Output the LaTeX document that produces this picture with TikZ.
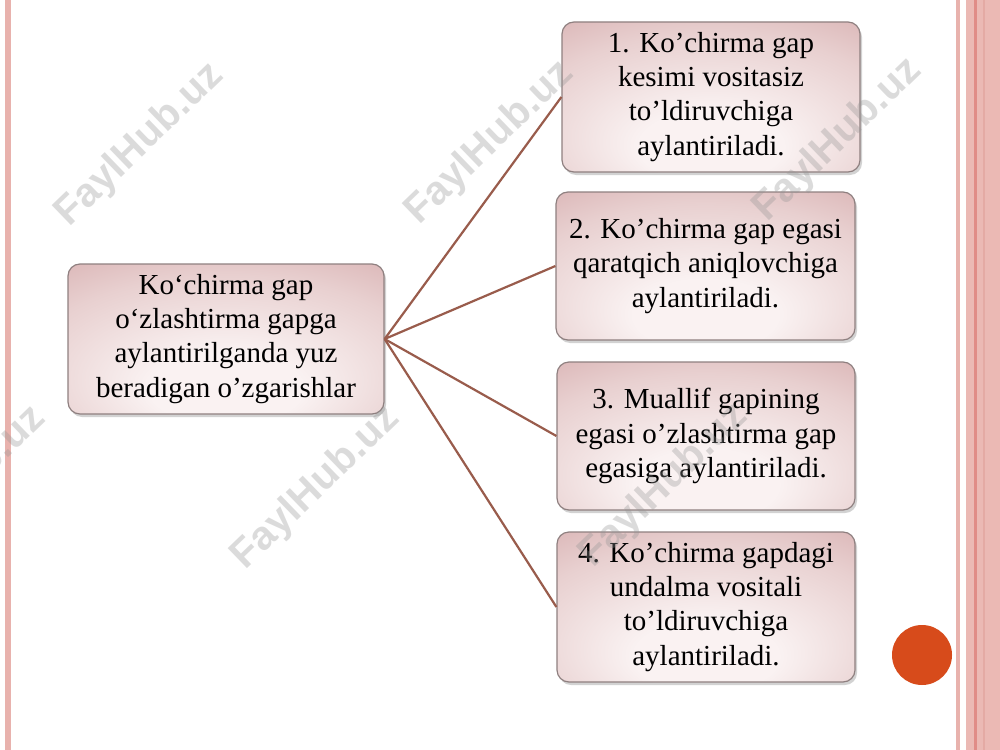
\documentclass[tikz,border=0pt]{standalone}
\usepackage{fontspec}
\setmainfont{Liberation Serif}
\newfontfamily\wmfont{Liberation Sans}
\usetikzlibrary{shadows}

\newlength{\du}
\setlength{\du}{0.02cm}

\definecolor{boxlight}{rgb}{0.980000, 0.950000, 0.950000}
\definecolor{boxmid}{rgb}{0.910000, 0.815000, 0.815000}
\definecolor{boxdark}{rgb}{0.825000, 0.650000, 0.655000}
\definecolor{boxline}{rgb}{0.560000, 0.500000, 0.500000}
\definecolor{linkcolor}{rgb}{0.600000, 0.360000, 0.300000}
\pgfdeclareradialshading{boxshading}{\pgfpoint{0bp}{-20bp}}{color(0bp)=(boxlight); color(12bp)=(boxlight); color(32bp)=(boxmid); color(50bp)=(boxdark); color(70bp)=(boxdark)}

\tikzset{
  bigbox/.style={draw=boxline, line width=1.2\du, rounded corners=12\du, shading=boxshading,
    drop shadow={opacity=0.35, shadow xshift=2\du, shadow yshift=-3\du},
    align=center, inner sep=0pt, font=\fontsize{16.5}{19.4}\selectfont},
  link/.style={draw=linkcolor, line width=2.2\du},
  wmark/.style={font=\wmfont\bfseries\fontsize{23}{23}\selectfont, text=black!42, opacity=0.33, rotate=44}
}

\begin{document}
\begin{tikzpicture}
\pgftransformxscale{1.000000}
\pgftransformyscale{-1.000000}
\useasboundingbox (0.000000\du,0.000000\du) rectangle (1000.000000\du,750.000000\du);
\fill[white] (0.000000\du,0.000000\du) rectangle (1000.000000\du,750.000000\du);
% stripes left and right
\definecolor{dialinecolor}{rgb}{0.910000, 0.700000, 0.680000}
\pgfsetfillcolor{dialinecolor}
\fill (5.000000\du,0.000000\du)--(5.000000\du,750.000000\du)--(11.000000\du,750.000000\du)--(11.000000\du,0.000000\du)--cycle;
\fill (956.000000\du,0.000000\du)--(956.000000\du,750.000000\du)--(960.000000\du,750.000000\du)--(960.000000\du,0.000000\du)--cycle;
\definecolor{dialinecolor}{rgb}{0.920000, 0.725000, 0.705000}
\pgfsetfillcolor{dialinecolor}
\fill (966.000000\du,0.000000\du)--(966.000000\du,750.000000\du)--(1000.000000\du,750.000000\du)--(1000.000000\du,0.000000\du)--cycle;
\definecolor{dialinecolor}{rgb}{0.880000, 0.550000, 0.530000}
\pgfsetfillcolor{dialinecolor}
\fill (974.000000\du,0.000000\du)--(974.000000\du,750.000000\du)--(976.500000\du,750.000000\du)--(976.500000\du,0.000000\du)--cycle;
\definecolor{dialinecolor}{rgb}{0.895000, 0.665000, 0.645000}
\pgfsetfillcolor{dialinecolor}
\fill (983.000000\du,0.000000\du)--(983.000000\du,750.000000\du)--(985.000000\du,750.000000\du)--(985.000000\du,0.000000\du)--cycle;
% orange dot
\definecolor{dialinecolor}{rgb}{0.845000, 0.295000, 0.105000}
\pgfsetfillcolor{dialinecolor}
\fill (922.000000\du,655.000000\du) circle (30.000000\du);
% boxes
\node[bigbox, minimum width=316\du, minimum height=150\du] (main) at (226.000000\du,339.000000\du)
  {Ko‘chirma gap\\o‘zlashtirma gapga\\aylantirilganda yuz\\beradigan o’zgarishlar};
\node[bigbox, minimum width=298\du, minimum height=150\du] (one) at (711.000000\du,97.000000\du)
  {1. Ko’chirma gap\\kesimi vositasiz\\to’ldiruvchiga\\aylantiriladi.};
\node[bigbox, minimum width=299\du, minimum height=148\du] (two) at (705.500000\du,266.000000\du)
  {2. Ko’chirma gap egasi\\qaratqich aniqlovchiga\\aylantiriladi.};
\node[bigbox, minimum width=298\du, minimum height=148\du] (three) at (706.000000\du,436.000000\du)
  {3. Muallif gapining\\egasi o’zlashtirma gap\\egasiga aylantiriladi.};
\node[bigbox, minimum width=298\du, minimum height=150\du] (four) at (706.000000\du,607.000000\du)
  {4. Ko’chirma gapdagi\\undalma vositali\\to’ldiruvchiga\\aylantiriladi.};
% links
\draw[link] (main.east)--(one.west);
\draw[link] (main.east)--(two.west);
\draw[link] (main.east)--(three.west);
\draw[link] (main.east)--(four.west);
% watermark
\node[wmark] (wmA) at (140.000000\du,145.000000\du) {FaylHub.uz};
\node[wmark] (wmB) at (490.000000\du,143.000000\du) {FaylHub.uz};
\node[wmark] (wmC) at (838.000000\du,140.000000\du) {FaylHub.uz};
\node[wmark] (wmD) at (-38.000000\du,488.000000\du) {FaylHub.uz};
\node[wmark] (wmE) at (316.000000\du,488.000000\du) {FaylHub.uz};
\node[wmark] (wmF) at (664.000000\du,486.000000\du) {FaylHub.uz};
\end{tikzpicture}
\end{document}
